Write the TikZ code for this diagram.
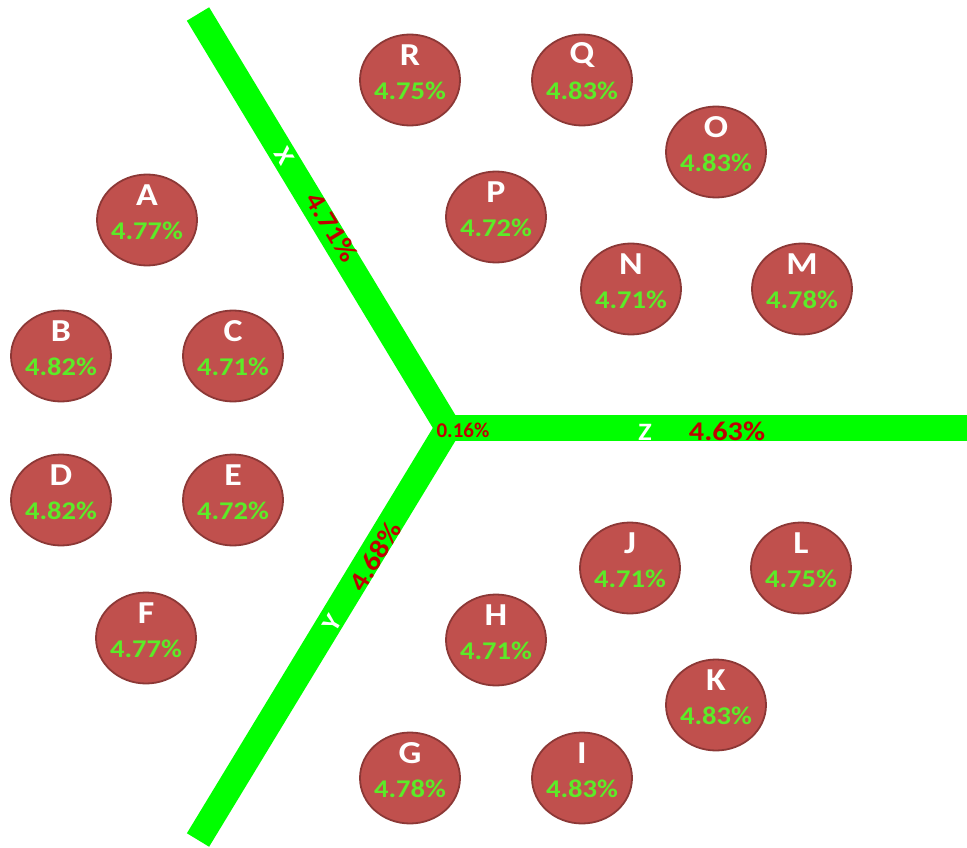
\documentclass[tikz,border=0pt]{standalone}
\usepackage{fontspec}
\usepackage{graphicx}
\usetikzlibrary{shapes.geometric}
\setmainfont{Carlito}
\definecolor{barg}{RGB}{0,255,0}
\definecolor{cfill}{RGB}{192,80,77}
\definecolor{cline}{RGB}{140,56,54}
\definecolor{pctg}{RGB}{92,235,40}
\definecolor{barred}{RGB}{192,0,0}
\newcommand{\wdn}[1]{\scalebox{1.12}[1]{#1}}
\begin{document}
\begin{tikzpicture}[x=1pt,y=-1pt,
  bubble/.style={ellipse,draw=cline,line width=1.8pt,fill=cfill,minimum width=100pt,minimum height=91pt,inner sep=0pt},
  ltr/.style={text=white,font=\bfseries\fontsize{32}{32}\selectfont},
  pct/.style={text=pctg,font=\bfseries\fontsize{25.5}{25.5}\selectfont},
  bar/.style={barg,line width=26pt},
  bartxt/.style={text=barred,font=\bfseries\fontsize{27}{27}\selectfont,inner sep=0pt},
  barltr/.style={text=white,font=\bfseries\fontsize{25}{25}\selectfont,inner sep=0pt}]
\useasboundingbox (0,0) rectangle (967,848);
\coordinate (ctr) at (448,428);
\coordinate (xend) at (198,14);
\coordinate (yend) at (198,840);
\coordinate (zend) at (975,428);
\draw[bar,line join=miter] (xend) -- (ctr) -- (yend);
\draw[bar] (ctr) -- (zend);
% bar labels
\node[barltr,rotate=-59] (xl) at (284,156) {\wdn{X}};
\node[bartxt,rotate=-59] (xp) at (332,227) {\wdn{4.71\%}};
\node[barltr,rotate=59] (yl) at (332,623) {\wdn{Y}};
\node[bartxt,rotate=59] (yp) at (375,556) {\wdn{4.68\%}};
\node[barltr] (zl) at (645,432) {\wdn{Z}};
\node[bartxt] (zp) at (727,431) {\wdn{4.63\%}};
\node[text=barred,font=\bfseries\fontsize{21}{21}\selectfont,inner sep=0pt] (cp) at (463,430) {0.16\%};
% bubbles
\foreach \n/\x/\y/\p in {R/410/80/4.75,Q/582/80/4.83,O/716/152/4.83,A/147/220/4.77,
  P/496/217/4.72,N/631/289/4.71,M/802/289/4.78,B/61/356/4.82,C/233/356/4.71,
  D/61/500/4.82,E/233/500/4.72,J/630/568/4.71,L/801/568/4.75,F/146/638/4.77,
  H/496/640/4.71,K/716/705/4.83,G/410/778/4.78,I/582/778/4.83}{
  \node[bubble] (b\n) at (\x,\y) {};
  \node[ltr] (l\n) at (\x,\y-25) {\wdn{\n}};
  \node[pct] (p\n) at (\x,\y+11) {\wdn{\p\%}};
}
\end{tikzpicture}
\end{document}
